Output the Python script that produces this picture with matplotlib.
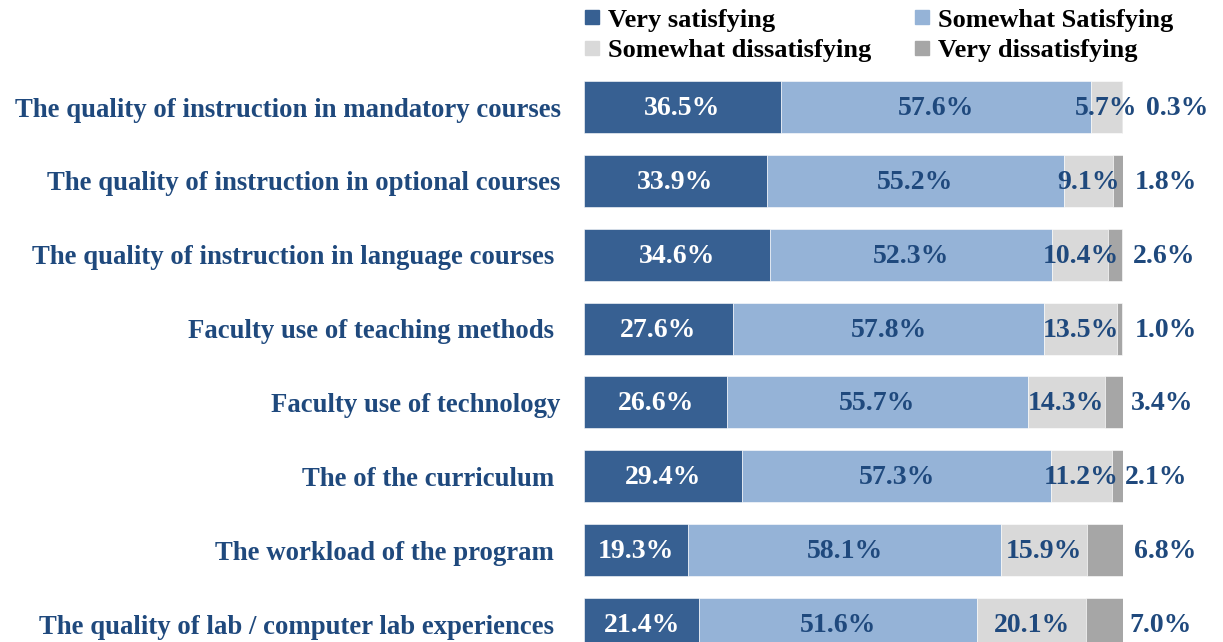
import matplotlib
matplotlib.use("Agg")
import matplotlib.pyplot as plt
from matplotlib.lines import Line2D
import numpy as np

plt.rcParams['font.family'] = ['Liberation Serif', 'DejaVu Serif']
plt.rcParams['font.weight'] = 'bold'

categories = [
    "The quality of instruction in mandatory courses",
    "The quality of instruction in optional courses",
    "The quality of instruction in language courses ",
    "Faculty use of teaching methods ",
    "Faculty use of technology",
    "The of the curriculum ",
    "The workload of the program ",
    "The quality of lab / computer lab experiences ",
]
series_names = ["Very satisfying", "Somewhat Satisfying",
                "Somewhat dissatisfying", "Very dissatisfying"]
very_sat = [36.5, 33.9, 34.6, 27.6, 26.6, 29.4, 19.3, 21.4]
some_sat = [57.6, 55.2, 52.3, 57.8, 55.7, 57.3, 58.1, 51.6]
some_dis = [5.7, 9.1, 10.4, 13.5, 14.3, 11.2, 15.9, 20.1]
very_dis = [0.3, 1.8, 2.6, 1.0, 3.4, 2.1, 6.8, 7.0]

colors = ['#376092', '#95B3D7', '#D9D9D9', '#A6A6A6']
txt_blue = '#1F497D'

# label positions for the "very dissatisfying" values (moved by hand in the original)
outer_x = [110.0, 108.0, 107.6, 108.0, 107.2, 106.1, 107.8, 106.9]

fig = plt.figure(figsize=(12.23, 6.42), dpi=100)
ax = fig.add_axes([584/1223, 0, (1123-584)/1223, (642-70.1)/642])

y = np.arange(len(categories))
left = np.zeros(len(categories))
for vals, c in zip([very_sat, some_sat, some_dis, very_dis], colors):
    ax.barh(y, vals, left=left, height=0.704, color=c,
            edgecolor='white', linewidth=0.4)
    left = left + np.array(vals)

# value labels
fs = 20
for i in range(len(categories)):
    yy = y[i] + 0.02
    ax.text(very_sat[i]/2, yy, f"{very_sat[i]:.1f}%", ha='center', va='center',
            color='white', fontsize=fs, fontweight='bold')
    ax.text(very_sat[i] + some_sat[i]/2, yy, f"{some_sat[i]:.1f}%", ha='center',
            va='center', color=txt_blue, fontsize=fs, fontweight='bold')
    ax.text(very_sat[i] + some_sat[i] + some_dis[i]/2, yy, f"{some_dis[i]:.1f}%",
            ha='center', va='center', color=txt_blue, fontsize=fs, fontweight='bold')
    ax.text(outer_x[i], yy, f"{very_dis[i]:.1f}%", ha='center', va='center',
            color=txt_blue, fontsize=fs, fontweight='bold', clip_on=False)

ax.set_xlim(0, 100)
ax.set_ylim(7.243, -0.5)
ax.set_yticks(y)
ax.set_yticklabels(categories, fontsize=19.3, fontweight='bold', color=txt_blue)
ax.tick_params(axis='y', length=0, pad=16.8)
ax.set_xticks([])
for s in ax.spines.values():
    s.set_visible(False)

handles = [Line2D([], [], marker='s', linestyle='none', markersize=10,
                  markerfacecolor=c, markeredgecolor=c) for c in colors]
order = [0, 2, 1, 3]
fig.legend([handles[k] for k in order], [series_names[k] for k in order],
           ncol=2, loc='upper left', bbox_to_anchor=(566/1223, 1.016),
           frameon=False, fontsize=19, handlelength=0.6, handletextpad=0.3,
           columnspacing=1.63, labelspacing=0.25, borderpad=0.2)

fig.savefig("out.png", dpi=100)
